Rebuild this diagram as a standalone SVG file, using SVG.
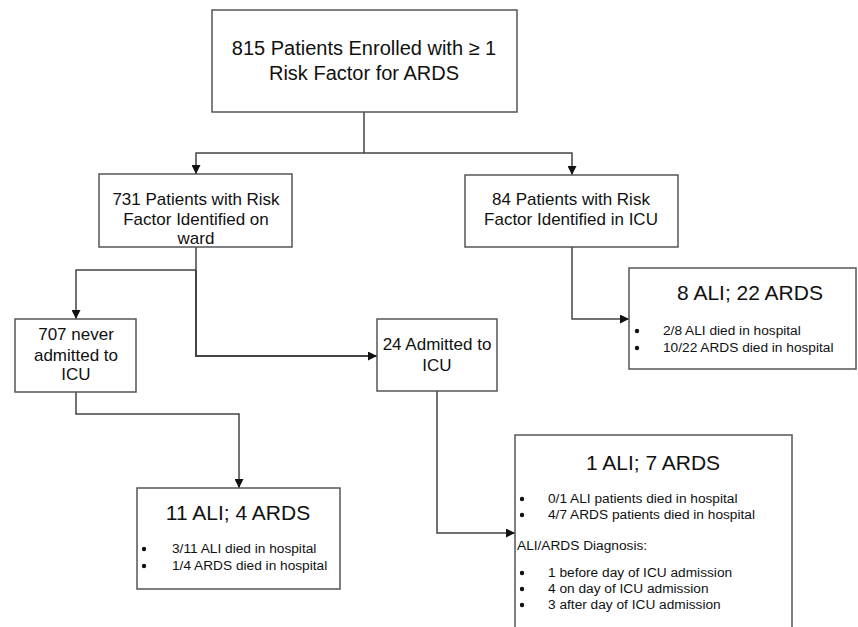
<svg xmlns="http://www.w3.org/2000/svg" width="858" height="627" viewBox="0 0 858 627">
<style>
.box{fill:#fff;stroke:#555;stroke-width:1.5}
.c{fill:none;stroke:#444;stroke-width:1.5}
text{font-family:"Liberation Sans",Arial,sans-serif;fill:#111}
.t1{font-size:20px;text-anchor:middle}
.t2{font-size:17px;text-anchor:middle}
.t3{font-size:21px;text-anchor:middle}
.s{font-size:13.7px}
.dot{fill:#111}
</style>
<defs>
<marker id="ah" viewBox="0 0 10 10" refX="10" refY="5" markerWidth="9" markerHeight="9" markerUnits="userSpaceOnUse" orient="auto">
<path d="M0,0 L10,5 L0,10 z" fill="#111"/>
</marker>
</defs>
<rect width="858" height="627" fill="#fff"/>
<g id="connectors">
<path class="c" d="M364,112 V153 H196 V174" marker-end="url(#ah)"/>
<path class="c" d="M364,153 H572 V175" marker-end="url(#ah)"/>
<path class="c" d="M196,247 V270 H76 V319" marker-end="url(#ah)"/>
<path class="c" d="M196,270 V356 H377" style="stroke-width:2" marker-end="url(#ah)"/>
<path class="c" d="M572,247 V319 H629" marker-end="url(#ah)"/>
<path class="c" d="M76,392 V414 H239 V488" marker-end="url(#ah)"/>
<path class="c" d="M437,391 V533 H515" marker-end="url(#ah)"/>
</g>
<g id="n815">
<rect class="box" x="212" y="10" width="305" height="102"/>
<text class="t1" x="364" y="55">815 Patients Enrolled with ≥ 1</text>
<text class="t1" x="364" y="80">Risk Factor for ARDS</text>
</g>
<g id="n731">
<rect class="box" x="99" y="174" width="193" height="73"/>
<text class="t2" x="196" y="205">731 Patients with Risk</text>
<text class="t2" x="196" y="225">Factor Identified on</text>
<text class="t2" x="196" y="244">ward</text>
</g>
<g id="n84">
<rect class="box" x="465" y="175" width="213" height="72"/>
<text class="t2" x="571" y="205">84 Patients with Risk</text>
<text class="t2" x="571" y="225">Factor Identified in ICU</text>
</g>
<g id="n8ali">
<rect class="box" x="629" y="268" width="227" height="101"/>
<text class="t3" x="750" y="300">8 ALI; 22 ARDS</text>
<circle class="dot" cx="637" cy="331" r="2.2"/>
<text class="s" x="663" y="335">2/8 ALI died in hospital</text>
<circle class="dot" cx="637" cy="348" r="2.2"/>
<text class="s" x="663" y="352">10/22 ARDS died in hospital</text>
</g>
<g id="n707">
<rect class="box" x="15" y="319" width="121" height="73"/>
<text class="t2" x="76" y="340">707 never</text>
<text class="t2" x="76" y="361">admitted to</text>
<text class="t2" x="76" y="380">ICU</text>
</g>
<g id="n24">
<rect class="box" x="377" y="319" width="120" height="72"/>
<text class="t2" x="437" y="350">24 Admitted to</text>
<text class="t2" x="437" y="371">ICU</text>
</g>
<g id="n11ali">
<rect class="box" x="137" y="488" width="203" height="101"/>
<text class="t3" x="238" y="520">11 ALI; 4 ARDS</text>
<circle class="dot" cx="144" cy="549" r="2.2"/>
<text class="s" x="172" y="553">3/11 ALI died in hospital</text>
<circle class="dot" cx="144" cy="566" r="2.2"/>
<text class="s" x="172" y="570">1/4 ARDS died in hospital</text>
</g>
<g id="n1ali">
<rect class="box" x="515" y="435" width="277" height="210"/>
<text class="t3" x="653" y="470">1 ALI; 7 ARDS</text>
<circle class="dot" cx="522" cy="499" r="2.2"/>
<text class="s" x="548" y="503">0/1 ALI patients died in hospital</text>
<circle class="dot" cx="522" cy="515" r="2.2"/>
<text class="s" x="548" y="519">4/7 ARDS patients died in hospital</text>
<text class="s" x="517" y="550">ALI/ARDS Diagnosis:</text>
<circle class="dot" cx="522" cy="573" r="2.2"/>
<text class="s" x="548" y="577">1 before day of ICU admission</text>
<circle class="dot" cx="522" cy="589" r="2.2"/>
<text class="s" x="548" y="593">4 on day of ICU admission</text>
<circle class="dot" cx="522" cy="605" r="2.2"/>
<text class="s" x="548" y="609">3 after day of ICU admission</text>
</g>
</svg>
